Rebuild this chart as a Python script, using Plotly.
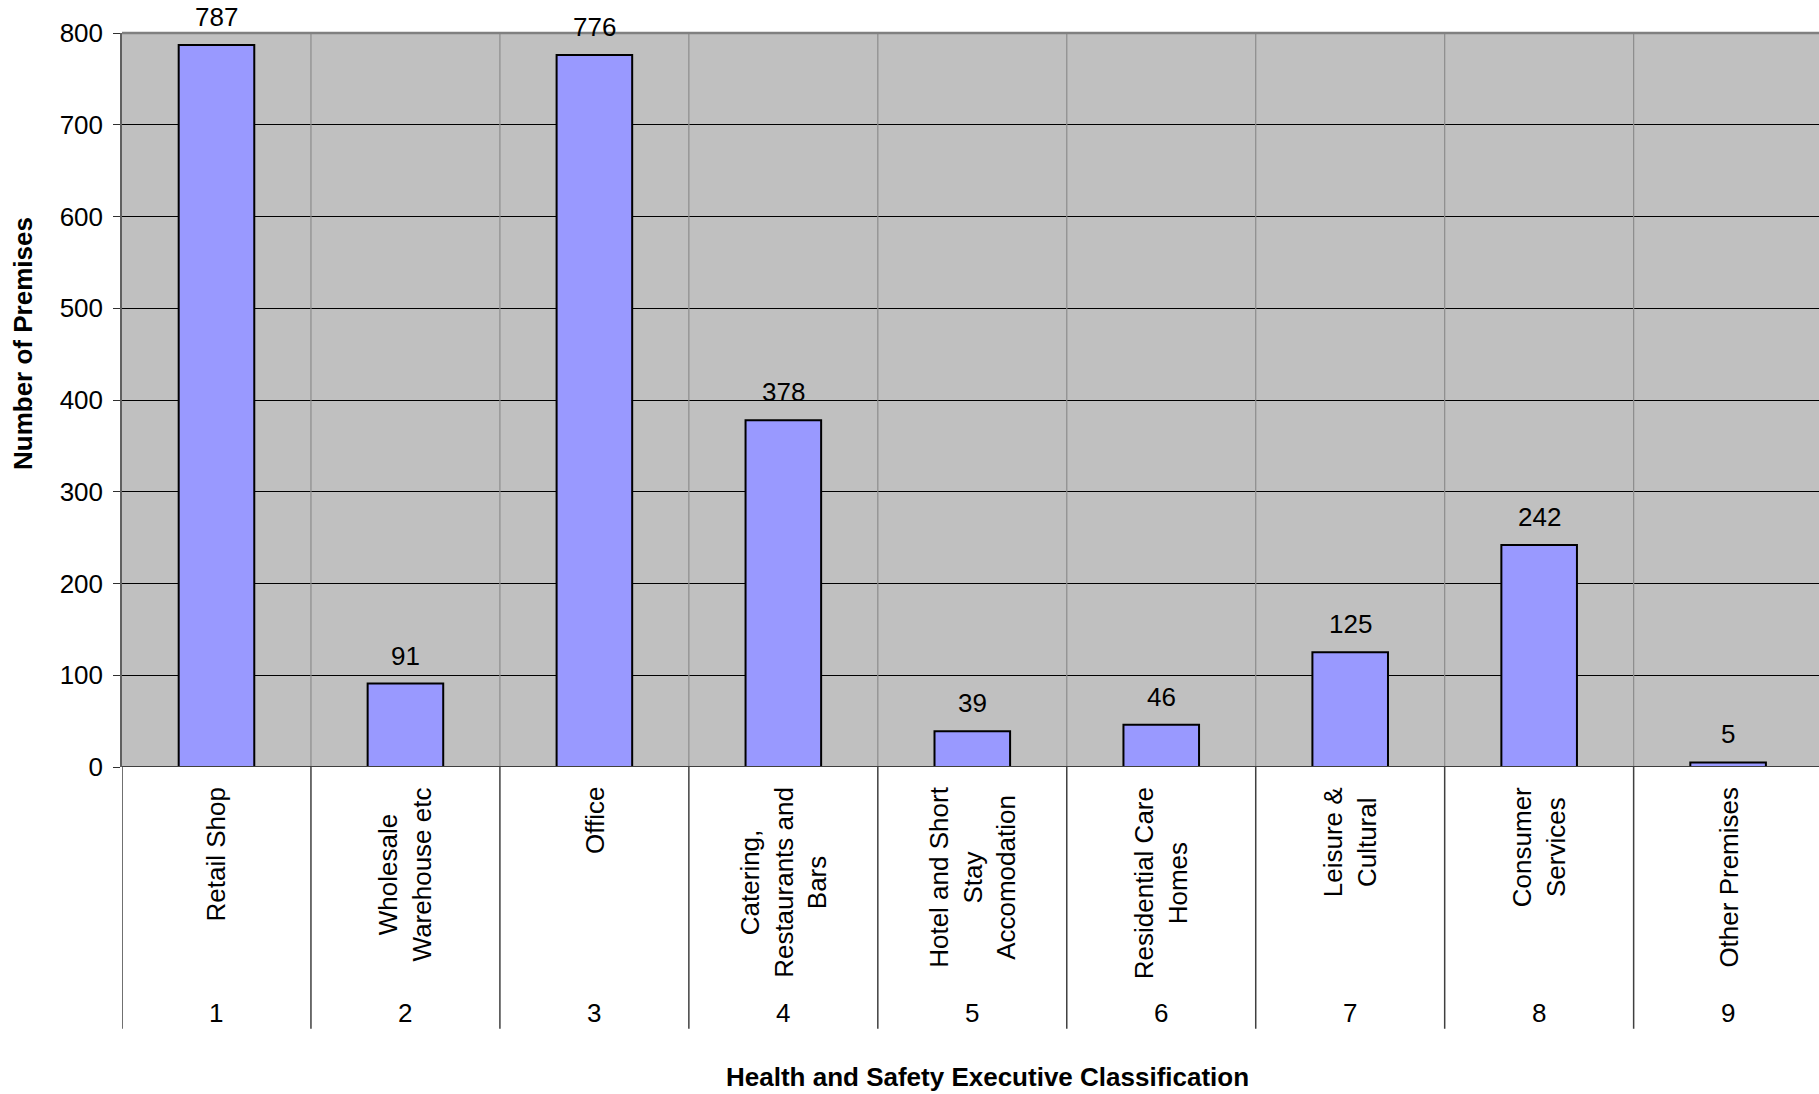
import plotly.graph_objects as go

categories = ["Retail Shop", "Wholesale<br>Warehouse etc", "Office",
              "Catering,<br>Restaurants and<br>Bars", "Hotel and Short<br>Stay<br>Accomodation",
              "Residential Care<br>Homes", "Leisure &<br>Cultural", "Consumer<br>Services",
              "Other Premises"]
codes = ["1", "2", "3", "4", "5", "6", "7", "8", "9"]
values = [787, 91, 776, 378, 39, 46, 125, 242, 5]
y_ticks = [0, 100, 200, 300, 400, 500, 600, 700, 800]

FONT = "Liberation Sans, Arial, sans-serif"
FS = 26
W, H = 1819, 1094
L, T, B = 122, 32.5, 327
plot_h = H - T - B

xs = list(range(len(values)))

fig = go.Figure()
fig.add_trace(go.Bar(
    x=xs, y=values,
    marker=dict(color="#9999FF", line=dict(color="#000000", width=2)),
    width=0.4, hoverinfo="skip", showlegend=False,
))

ann = []
for i, v in enumerate(values):
    ann.append(dict(x=i, y=v, xref="x", yref="y", text=str(v), showarrow=False,
                    yanchor="bottom", yshift=11, font=dict(size=FS, color="#000", family=FONT)))
    ann.append(dict(x=i, y=0, xref="x", yref="paper", text=categories[i], showarrow=False,
                    textangle=-90, yanchor="top", xanchor="center", align="center", yshift=-18,
                    font=dict(size=FS, color="#000", family=FONT)))
    ann.append(dict(x=i, y=0, xref="x", yref="paper", text=codes[i], showarrow=False,
                    yanchor="middle", yshift=-246, font=dict(size=FS, color="#000", family=FONT)))

ann.append(dict(x=0.5, y=0, xref="paper", yref="paper",
                text="<b>Health and Safety Executive Classification</b>", showarrow=False,
                yanchor="middle", yshift=-(1077 - 767), xshift=17,
                font=dict(size=FS, color="#000", family=FONT)))
ann.append(dict(x=0, y=0.5, xref="paper", yref="paper",
                text="<b>Number of Premises</b>", showarrow=False, textangle=-90,
                xanchor="center", xshift=-(L - 23), yshift=56,
                font=dict(size=FS, color="#000", family=FONT)))

shapes = []
bottom_paper = -(1029 - 767) / plot_h
for i in range(len(values)):
    b = i - 0.5
    if i > 0:
        shapes.append(dict(type="line", xref="x", yref="paper", x0=b, x1=b, y0=0, y1=1,
                           line=dict(color="#8c8c8c", width=1.2)))
    shapes.append(dict(type="line", xref="x", yref="paper", x0=b, x1=b, y0=bottom_paper, y1=0,
                       line=dict(color="#404040", width=1.5)))
# top border
shapes.append(dict(type="line", xref="paper", yref="paper", x0=0, x1=1, y0=1, y1=1,
                   line=dict(color="#808080", width=2.5)))
# x-axis baseline
shapes.append(dict(type="line", xref="paper", yref="y", x0=0, x1=1, y0=0, y1=0,
                   line=dict(color="#404040", width=2)))

fig.update_layout(
    width=W, height=H,
    margin=dict(l=L, r=0, t=T, b=B),
    paper_bgcolor="#FFFFFF", plot_bgcolor="#C0C0C0",
    font=dict(family=FONT, size=FS, color="#000"),
    xaxis=dict(range=[-0.5, 8.481], showticklabels=False, showgrid=False, zeroline=False,
               showline=False, ticks=""),
    yaxis=dict(range=[0, 800], tickvals=y_ticks, ticks="outside", ticklen=7, tickcolor="#303030",
               ticklabelstandoff=5,
               showgrid=True, gridcolor="#000000", gridwidth=1, zeroline=False,
               showline=True, linecolor="#606060", linewidth=1.5,
               tickfont=dict(size=FS, family=FONT, color="#000")),
    annotations=ann, shapes=shapes, bargap=0.6,
)

fig.write_html("out.html")
